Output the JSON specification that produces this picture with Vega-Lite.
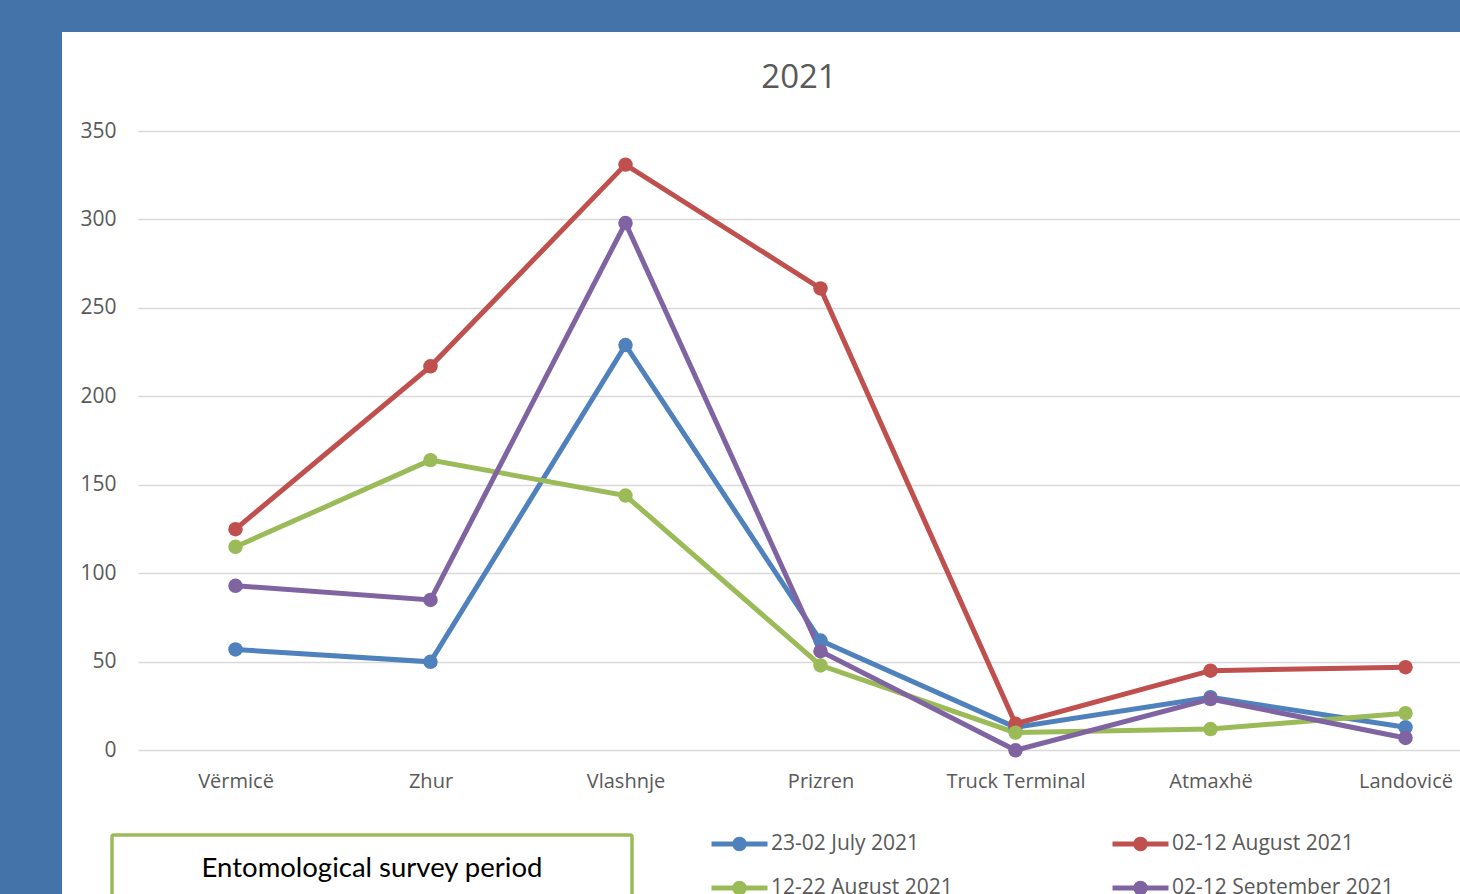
{
  "$schema": "https://vega.github.io/schema/vega-lite/v6.json",
  "width": 1398,
  "height": 862,
  "autosize": {"type": "none"},
  "padding": {"left": 62, "top": 32, "right": 0, "bottom": 0},
  "background": "#4473AA",
  "view": {"fill": "white", "stroke": null},
  "config": {"legend": {"strokeWidth": 3.5}},
  "title": {
    "text": "2021",
    "fontSize": 33,
    "font": "Open Sans",
    "fontWeight": "normal",
    "color": "#595959",
    "anchor": "middle",
    "dx": 38,
    "baseline": "alphabetic",
    "offset": -89
  },
  "data": {
    "values": [
      {"series": "23-02 July 2021", "loc": "Vërmicë", "count": 57},
      {"series": "23-02 July 2021", "loc": "Zhur", "count": 50},
      {"series": "23-02 July 2021", "loc": "Vlashnje", "count": 229},
      {"series": "23-02 July 2021", "loc": "Prizren", "count": 62},
      {"series": "23-02 July 2021", "loc": "Truck Terminal", "count": 13},
      {"series": "23-02 July 2021", "loc": "Atmaxhë", "count": 30},
      {"series": "23-02 July 2021", "loc": "Landovicë", "count": 13},
      {"series": "02-12 August 2021", "loc": "Vërmicë", "count": 125},
      {"series": "02-12 August 2021", "loc": "Zhur", "count": 217},
      {"series": "02-12 August 2021", "loc": "Vlashnje", "count": 331},
      {"series": "02-12 August 2021", "loc": "Prizren", "count": 261},
      {"series": "02-12 August 2021", "loc": "Truck Terminal", "count": 15},
      {"series": "02-12 August 2021", "loc": "Atmaxhë", "count": 45},
      {"series": "02-12 August 2021", "loc": "Landovicë", "count": 47},
      {"series": "12-22 August 2021", "loc": "Vërmicë", "count": 115},
      {"series": "12-22 August 2021", "loc": "Zhur", "count": 164},
      {"series": "12-22 August 2021", "loc": "Vlashnje", "count": 144},
      {"series": "12-22 August 2021", "loc": "Prizren", "count": 48},
      {"series": "12-22 August 2021", "loc": "Truck Terminal", "count": 10},
      {"series": "12-22 August 2021", "loc": "Atmaxhë", "count": 12},
      {"series": "12-22 August 2021", "loc": "Landovicë", "count": 21},
      {"series": "02-12 September 2021", "loc": "Vërmicë", "count": 93},
      {"series": "02-12 September 2021", "loc": "Zhur", "count": 85},
      {"series": "02-12 September 2021", "loc": "Vlashnje", "count": 298},
      {"series": "02-12 September 2021", "loc": "Prizren", "count": 56},
      {"series": "02-12 September 2021", "loc": "Truck Terminal", "count": 0},
      {"series": "02-12 September 2021", "loc": "Atmaxhë", "count": 29},
      {"series": "02-12 September 2021", "loc": "Landovicë", "count": 7}
    ]
  },
  "encoding": {
    "x": {
      "field": "loc",
      "type": "nominal",
      "sort": ["Vërmicë", "Zhur", "Vlashnje", "Prizren", "Truck Terminal", "Atmaxhë", "Landovicë"],
      "scale": {"type": "point", "range": [76, 1441], "padding": 0.5},
      "axis": {
        "title": null,
        "orient": "bottom",
        "offset": -143.7,
        "domain": false,
        "ticks": false,
        "grid": false,
        "labelAngle": 0,
        "labelPadding": 21,
        "labelFontSize": 20,
        "labelFont": "Open Sans",
        "labelColor": "#595959"
      }
    },
    "y": {
      "field": "count",
      "type": "quantitative",
      "scale": {"domain": [-81.2, 405.95], "nice": false, "zero": false},
      "axis": {
        "title": null,
        "offset": -58,
        "domain": false,
        "ticks": false,
        "labelPadding": 4,
        "values": [0, 50, 100, 150, 200, 250, 300, 350],
        "grid": true,
        "gridColor": "#d9d9d9",
        "gridWidth": 1.5,
        "labelFontSize": 21,
        "labelFont": "Open Sans",
        "labelColor": "#595959"
      }
    }
  },
  "layer": [
    {
      "mark": {"type": "line", "strokeWidth": 5, "point": {"filled": true, "size": 210, "opacity": 1}},
      "encoding": {
        "color": {
          "field": "series",
          "type": "nominal",
          "scale": {
            "domain": ["23-02 July 2021", "02-12 August 2021", "12-22 August 2021", "02-12 September 2021"],
            "range": ["#4F81BD", "#C0504D", "#9BBB59", "#8064A2"]
          },
          "legend": {
            "title": null,
            "orient": "none",
            "legendX": 647,
            "legendY": 799,
            "direction": "horizontal",
            "columns": 2,
            "columnPadding": 157,
            "rowPadding": 18,
            "clipHeight": 26,
            "padding": 0,
            "symbolType": "M-1,0H1M0.17,0A0.17,0.17,0,1,1,-0.17,0A0.17,0.17,0,1,1,0.17,0Z",
            "symbolSize": 3136,
            "symbolStrokeWidth": 5,
            "labelFontSize": 21,
            "labelFont": "Open Sans",
            "labelColor": "#595959",
            "labelOffset": 1,
            "labelLimit": 400,
            "encode": {
              "symbols": {
                "update": {
                  "fill": {"scale": "color", "field": "value"},
                  "stroke": {"scale": "color", "field": "value"},
                  "opacity": {"value": 1}
                }
              }
            }
          }
        }
      }
    },
    {
      "mark": {"type": "point", "opacity": 0},
      "encoding": {
        "shape": {
          "datum": "period",
          "legend": {
            "title": "Entomological survey period",
            "orient": "none",
            "legendX": 50,
            "legendY": 803,
            "padding": 20,
            "strokeColor": "#9BBB59",
            "fillColor": "white",
            "cornerRadius": 2,
            "titleFontSize": 27.5,
            "titleFont": "Lato",
            "titleColor": "black",
            "titleFontWeight": "normal",
            "titleAnchor": "middle",
            "titleLimit": 800,
            "titlePadding": 10,
            "symbolSize": 226576,
            "symbolOpacity": 0,
            "symbolStrokeWidth": 0,
            "labelExpr": "''"
          }
        }
      }
    }
  ]
}
